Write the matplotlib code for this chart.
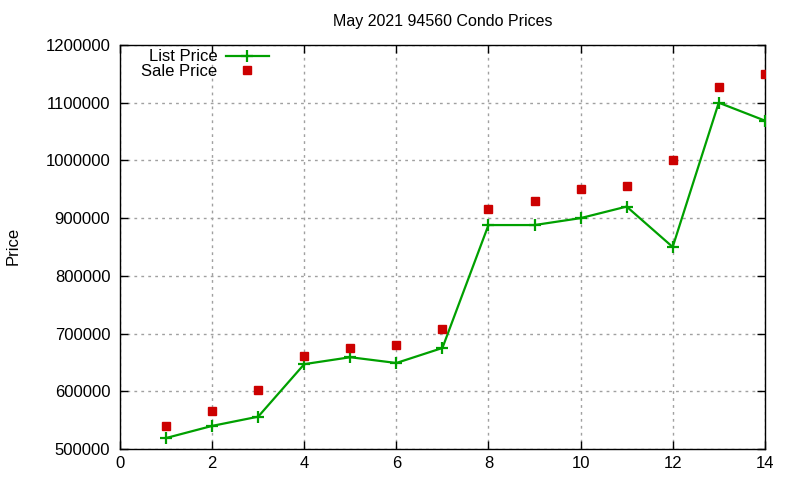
import matplotlib
matplotlib.use('Agg')
import matplotlib.pyplot as plt

plt.rcParams['font.family'] = ['Liberation Sans', 'DejaVu Sans']

# data
listings = [1, 2, 3, 4, 5, 6, 7, 8, 9, 10, 11, 12, 13, 14]
list_price = [519000, 540000, 556000, 647000, 659000, 649000, 675000,
              888000, 888000, 900000, 920000, 850000, 1100000, 1069000]
sale_price = [540000, 566000, 603000, 661000, 675000, 680000, 708000,
              916000, 930000, 951000, 956000, 1000000, 1127000, 1150000]

x_ticks = [0, 2, 4, 6, 8, 10, 12, 14]
y_ticks = [500000, 600000, 700000, 800000, 900000, 1000000, 1100000, 1200000]

fig = plt.figure(figsize=(8, 4.8), dpi=100)
ax = fig.add_axes([0.15, 0.0646, 0.806, 0.8417])

ax.plot(listings, list_price, color='#00a000', lw=1.6, marker='+',
        markersize=8, markeredgewidth=1.6, label='List Price', zorder=3)
ax.plot(listings, sale_price, ls='none', marker='s', color='#cc0000',
        markersize=6, label='Sale Price', zorder=3)

ax.set_xlim(0, 14)
ax.set_ylim(500000, 1200000)
ax.set_xticks(x_ticks)
ax.set_yticks(y_ticks)
ax.set_xticklabels([str(t) for t in x_ticks])
ax.set_yticklabels([str(t) for t in y_ticks])
ax.tick_params(direction='in', top=True, right=True, length=6, width=1,
               labelsize=12, pad=7, colors='black')
ax.tick_params(axis='x', pad=5)
ax.grid(True, color='#a0a0a0', ls=(0, (2, 3)), lw=1)
for s in ax.spines.values():
    s.set_linewidth(1)

ax.set_title('May 2021 94560 Condo Prices', fontsize=11.5, pad=14)
fig.text(0.016, 0.4875, 'Price', rotation=90, fontsize=12, va='center', ha='center')

leg = ax.legend(loc='upper left', bbox_to_anchor=(0.012, 1.022), frameon=False,
                markerfirst=False, fontsize=12, handlelength=2.6,
                handletextpad=0.5, labelspacing=-0.05, borderpad=0.3)

plt.savefig('out.png', dpi=100)
